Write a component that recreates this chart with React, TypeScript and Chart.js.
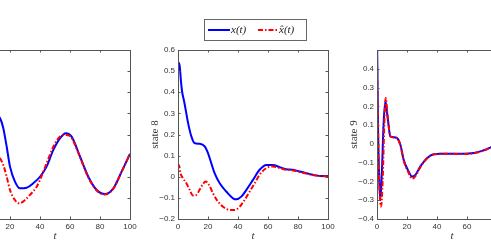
import React, { useEffect, useRef } from 'react';
import { Chart, registerables } from 'chart.js';

Chart.register(...registerables);

// ---------- data ----------
// state 7 (left panel, partly off-screen)
const T7_X = [0, 4, 8, 12, 13.3, 15.5, 17.8, 20, 23.3, 26.7, 31.1, 35.5, 40, 44.4, 48.9, 53.3, 57.3, 61.1, 66.7, 72.2, 77.8, 83.3, 88.9, 94.4, 100];
const X7 = [-0.05, 0.02, 0.07, 0.085, 0.078, 0.031, -0.058, -0.152, -0.223, -0.255, -0.252, -0.231, -0.2, -0.152, -0.073, -0.018, 0.006, -0.01, -0.105, -0.2, -0.263, -0.282, -0.255, -0.176, -0.092];
const T7_XH = [0, 4, 8, 12, 13.3, 15.5, 17.8, 20, 23.3, 26.2, 30, 33.3, 37.8, 40, 44.4, 48.9, 53.3, 57.8, 61.1, 66.7, 72.2, 77.8, 83.3, 88.9, 94.4, 100];
const XH7 = [0, -0.05, -0.09, -0.108, -0.113, -0.144, -0.2, -0.263, -0.31, -0.326, -0.31, -0.286, -0.247, -0.215, -0.136, -0.058, -0.01, -0.002, -0.017, -0.108, -0.203, -0.265, -0.284, -0.256, -0.177, -0.092];

// state 8 (middle panel)
const T8_X = [0, 0.5, 1.2, 2, 2.8, 4, 5.1, 6.7, 8.9, 11.1, 14.4, 17.8, 20, 22.2, 24.4, 27.8, 32.2, 36.7, 38.9, 42.2, 45.6, 50, 54.4, 58.9, 63.3, 67.8, 72.2, 76.7, 81.1, 85.6, 90, 94.4, 100];
const X8 = [0.52, 0.54, 0.52, 0.45, 0.4, 0.36, 0.318, 0.255, 0.191, 0.159, 0.156, 0.144, 0.112, 0.064, 0.017, -0.031, -0.07, -0.102, -0.107, -0.094, -0.062, -0.015, 0.033, 0.056, 0.056, 0.045, 0.036, 0.033, 0.025, 0.017, 0.009, 0.004, 0.004];
const T8_XH = [0, 0.6, 1.6, 3.3, 5.6, 7.8, 10, 12.2, 14.4, 16.7, 18.4, 20.7, 23.3, 26.7, 30, 34.4, 37.8, 41.1, 44.4, 47.8, 51.1, 54.4, 58.9, 63.3, 67.8, 72.2, 76.7, 81.1, 85.6, 90, 94.4, 100];
const XH8 = [0.05, 0.056, 0.017, -0.007, -0.031, -0.062, -0.089, -0.086, -0.062, -0.034, -0.023, -0.039, -0.078, -0.118, -0.142, -0.157, -0.157, -0.142, -0.11, -0.07, -0.031, 0.009, 0.041, 0.049, 0.041, 0.033, 0.03, 0.022, 0.015, 0.008, 0.003, 0.002];

// state 9 (right panel, partly off-screen)
const T9_X = [0, 0.7, 1.5, 2.2, 3.3, 4.4, 5.6, 7.1, 8.9, 11.1, 13.3, 15.6, 17.8, 21.1, 23.3, 25.6, 28.9, 33.3, 37.8, 42.2, 48.9, 57.8, 64.4, 68.9, 73.3, 76.2, 85, 100];
const X9 = [0.6, 0.08, -0.19, -0.3, -0.14, 0.11, 0.227, 0.14, 0.04, 0.036, 0.031, -0.005, -0.085, -0.147, -0.174, -0.165, -0.12, -0.076, -0.055, -0.053, -0.053, -0.053, -0.049, -0.04, -0.028, -0.017, -0.002, 0];
const T9_XH = [0, 0.4, 1.3, 2.7, 3.8, 4.9, 5.8, 7.1, 8.9, 11.1, 13.3, 15.6, 17.8, 21.1, 23.3, 25.6, 28.9, 33.3, 37.8, 42.2, 48.9, 57.8, 64.4, 68.9, 73.3, 76.2, 85, 100];
const XH9 = [0.45, 0.25, -0.156, -0.334, -0.19, 0.11, 0.245, 0.147, 0.04, 0.034, 0.03, -0.008, -0.09, -0.155, -0.186, -0.172, -0.124, -0.078, -0.056, -0.053, -0.053, -0.054, -0.05, -0.041, -0.029, -0.018, -0.003, 0];

const X_TICK_STEP = 20;
const Y_TICK_STEP = 0.1;
const LABEL_X = 'x(t)';
const LABEL_XH = 'x\u0302(t)';

// ---------- layout constants ----------
const Y_AXIS_W = 30;
const X_AXIS_H = 24;
const PAD_R = 15;
const PLOT_W = 150;
const PLOT_H = 169;

const frameTicks = {
  id: 'frameTicks',
  afterDatasetsDraw(chart: any) {
    const { ctx, chartArea, scales } = chart;
    const { left, right, top, bottom } = chartArea;
    const xs = scales.x;
    const ys = scales.y;
    const L = 2.5;
    ctx.save();
    ctx.strokeStyle = '#555';
    ctx.lineWidth = 1;
    ctx.beginPath();
    xs.ticks.forEach((t: any) => {
      const px = Math.round(xs.getPixelForValue(t.value)) + 0.5;
      ctx.moveTo(px, bottom);
      ctx.lineTo(px, bottom - L);
      ctx.moveTo(px, top);
      ctx.lineTo(px, top + L);
    });
    ys.ticks.forEach((t: any) => {
      const py = Math.round(ys.getPixelForValue(t.value)) + 0.5;
      ctx.moveTo(left, py);
      ctx.lineTo(left + L, py);
      ctx.moveTo(right, py);
      ctx.lineTo(right - L, py);
    });
    ctx.stroke();
    ctx.strokeRect(Math.round(left) + 0.5, Math.round(top) + 0.5, Math.round(right - left), Math.round(bottom - top));
    ctx.restore();
  },
};

const legendBox = {
  id: 'legendBox',
  afterDraw(chart: any) {
    const { ctx, chartArea } = chart;
    const bx = Math.round(chartArea.left) + 26;
    const by = Math.round(chartArea.top) - 31;
    const bw = 102;
    const bh = 21;
    ctx.save();
    ctx.fillStyle = '#fff';
    ctx.fillRect(bx, by, bw, bh);
    ctx.strokeStyle = '#666';
    ctx.lineWidth = 1;
    ctx.strokeRect(bx + 0.5, by + 0.5, bw, bh);
    const ly = by + 11;
    const items = [
      { ds: chart.data.datasets[0], x0: bx + 4, x1: bx + 26, tx: bx + 27 },
      { ds: chart.data.datasets[1], x0: bx + 54, x1: bx + 73, tx: bx + 75 },
    ];
    items.forEach((it) => {
      ctx.strokeStyle = it.ds.borderColor;
      ctx.lineWidth = it.ds.borderWidth;
      ctx.setLineDash(it.ds.borderDash || []);
      ctx.beginPath();
      ctx.moveTo(it.x0, ly);
      ctx.lineTo(it.x1, ly);
      ctx.stroke();
      ctx.setLineDash([]);
      ctx.fillStyle = '#222';
      ctx.font = 'italic 11px "Liberation Serif"';
      ctx.textBaseline = 'middle';
      ctx.textAlign = 'left';
      ctx.fillText(it.ds.label, it.tx, ly);
    });
    ctx.restore();
  },
};

function fmtY(v: number) {
  const r = Math.round(v * 10) / 10;
  if (r === 0) return '0';
  return r < 0 ? '\u2212' + String(-r) : String(r);
}

type PanelProps = {
  left: number;
  top: number;
  padTop: number;
  yMin: number;
  yMax: number;
  yTitle: string;
  tx: number[];
  x: number[];
  txh: number[];
  xh: number[];
  hideTopLabel?: boolean;
  legend?: boolean;
};

function Panel(p: PanelProps) {
  const ref = useRef<HTMLCanvasElement | null>(null);
  const width = Y_AXIS_W + PLOT_W + PAD_R;
  const height = p.padTop + PLOT_H + X_AXIS_H;
  useEffect(() => {
    if (!ref.current) return;
    const chart = new Chart(ref.current, {
      type: 'line',
      data: {
        datasets: [
          {
            label: LABEL_X,
            data: p.tx.map((t, i) => ({ x: t, y: p.x[i] })),
            borderColor: '#0000ff',
            borderWidth: 2,
            pointRadius: 0,
            cubicInterpolationMode: 'monotone',
            fill: false,
            order: 1,
          },
          {
            label: LABEL_XH,
            data: p.txh.map((t, i) => ({ x: t, y: p.xh[i] })),
            borderColor: '#ff0000',
            borderWidth: 2,
            borderDash: [5, 2, 1.5, 2],
            pointRadius: 0,
            cubicInterpolationMode: 'monotone',
            fill: false,
            order: 0,
          },
        ],
      } as any,
      options: {
        responsive: false,
        maintainAspectRatio: false,
        animation: false,
        events: [],
        layout: { padding: { top: p.padTop, right: PAD_R, left: 0, bottom: 0 } },
        plugins: { legend: { display: false }, tooltip: { enabled: false } },
        scales: {
          x: {
            type: 'linear',
            min: 0,
            max: 100,
            grid: { display: false, drawTicks: false, tickLength: 0 },
            border: { display: false },
            ticks: {
              stepSize: X_TICK_STEP,
              padding: 3,
              color: '#333',
              autoSkip: false,
              maxRotation: 0,
              font: { family: 'Liberation Sans', size: 8 },
              callback: (v: any) => String(v),
            },
            title: {
              display: true,
              text: 't',
              color: '#333',
              font: { family: 'Liberation Serif', style: 'italic', size: 11 },
              padding: { top: 0, bottom: 0 },
            },
            afterFit: (s: any) => {
              s.height = X_AXIS_H;
            },
          },
          y: {
            type: 'linear',
            min: p.yMin,
            max: p.yMax,
            grid: { display: false, drawTicks: false, tickLength: 0 },
            border: { display: false },
            ticks: {
              stepSize: Y_TICK_STEP,
              padding: 3,
              color: '#333',
              autoSkip: false,
              font: { family: 'Liberation Sans', size: 8 },
              callback: (v: any) => {
                if (p.hideTopLabel && Math.abs(v - p.yMax) < 1e-6) return '';
                return fmtY(v);
              },
            },
            title: {
              display: true,
              text: p.yTitle,
              color: '#333',
              font: { family: 'Liberation Serif', size: 11 },
              padding: { top: 1, bottom: 0 },
            },
            afterFit: (s: any) => {
              s.width = Y_AXIS_W;
            },
          },
        },
      } as any,
      plugins: p.legend ? [frameTicks, legendBox] : [frameTicks],
    });
    return () => chart.destroy();
  }, []);
  return (
    <canvas
      ref={ref}
      width={width}
      height={height}
      style={{ position: 'absolute', left: p.left, top: p.top, width, height }}
    />
  );
}

export default function App() {
  return (
    <div
      style={{
        position: 'fixed',
        left: 0,
        top: 0,
        width: 491,
        height: 240,
        overflow: 'hidden',
        background: '#fff',
      }}
    >
      <Panel left={-20 - Y_AXIS_W} top={40} padTop={10} yMin={-0.4} yMax={0.4} yTitle="state 7" tx={T7_X} x={X7} txh={T7_XH} xh={XH7} />
      <Panel left={178 - Y_AXIS_W} top={5} padTop={45} yMin={-0.2} yMax={0.6} yTitle="state 8" tx={T8_X} x={X8} txh={T8_XH} xh={XH8} legend />
      <Panel left={377 - Y_AXIS_W} top={40} padTop={10} yMin={-0.4} yMax={0.5} yTitle="state 9" tx={T9_X} x={X9} txh={T9_XH} xh={XH9} hideTopLabel />
    </div>
  );
}
